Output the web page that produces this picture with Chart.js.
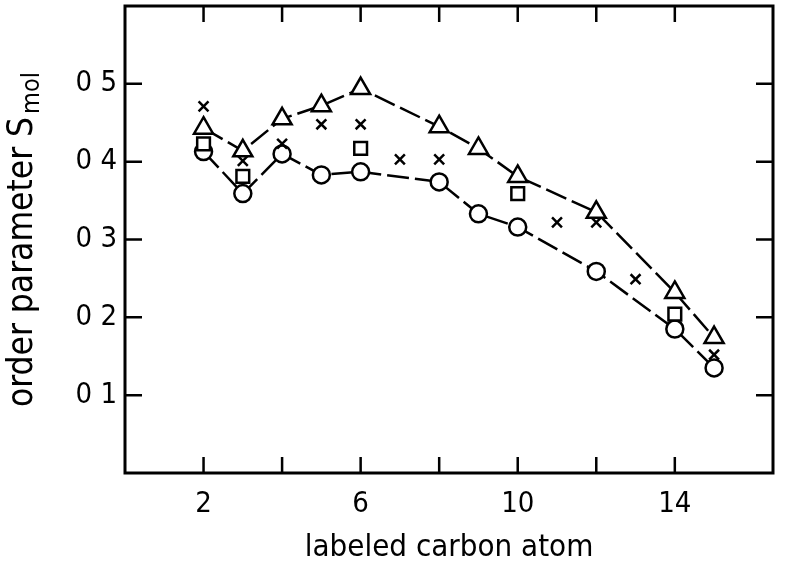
<!DOCTYPE html>
<html>
<head>
<meta charset="utf-8">
<script src="https://cdn.jsdelivr.net/npm/chart.js"></script>
<style>
  html, body { margin: 0; padding: 0; background: #fff; }
  #box { width: 800px; height: 571px; }
</style>
</head>
<body>
<div id="box"><canvas id="grafico"></canvas></div>
<script>
// valores
const triCarbon = [2, 3, 4, 5, 6, 8, 9, 10, 12, 14, 15];
const triS = [0.443, 0.414, 0.455, 0.472, 0.494, 0.445, 0.417, 0.381, 0.335, 0.232, 0.174];

const circCarbon = [2, 3, 4, 5, 6, 8, 9, 10, 12, 14, 15];
const circS = [0.413, 0.359, 0.410, 0.383, 0.387, 0.374, 0.333, 0.316, 0.259, 0.185, 0.135];

const crossCarbon = [2, 3, 4, 5, 6, 7, 8, 11, 12, 13, 15];
const crossS = [0.471, 0.401, 0.423, 0.448, 0.448, 0.403, 0.403, 0.322, 0.322, 0.249, 0.152];

const sqCarbon = [2, 3, 6, 10, 14];
const sqS = [0.423, 0.381, 0.417, 0.359, 0.204];

const xTickLabels = [2, 6, 10, 14];
const yTickLabels = { '0.1': '0 1', '0.2': '0 2', '0.3': '0 3', '0.4': '0 4', '0.5': '0 5' };

const FONT = "'DejaVu Sans Condensed', 'Liberation Sans Narrow', sans-serif";

function pts(xs, ys) {
  return xs.map((x, i) => ({ x: x, y: ys[i] }));
}

function semPadding(scale) {
  scale.paddingTop = 0;
  scale.paddingBottom = 0;
  scale.paddingLeft = 0;
  scale.paddingRight = 0;
}

// moldura + ticks para dentro
const molduraPlugin = {
  id: 'moldura',
  afterDatasetsDraw(chart) {
    const { ctx, chartArea: a, scales } = chart;
    ctx.save();
    ctx.strokeStyle = '#000';
    ctx.lineWidth = 3;
    ctx.strokeRect(a.left, a.top, a.right - a.left, a.bottom - a.top);
    ctx.lineWidth = 2.5;
    ctx.beginPath();
    scales.x.ticks.forEach(t => {
      const px = scales.x.getPixelForValue(t.value);
      ctx.moveTo(px, a.bottom); ctx.lineTo(px, a.bottom - 16);
      ctx.moveTo(px, a.top); ctx.lineTo(px, a.top + 16);
    });
    scales.y.ticks.forEach(t => {
      const py = scales.y.getPixelForValue(t.value);
      ctx.moveTo(a.left, py); ctx.lineTo(a.left + 17, py);
      ctx.moveTo(a.right, py); ctx.lineTo(a.right - 17, py);
    });
    ctx.stroke();
    ctx.restore();
  },
  afterDraw(chart) {
    // titulo do eixo y com subscrito
    const { ctx, chartArea: a } = chart;
    const cy = (a.top + a.bottom) / 2;
    ctx.save();
    ctx.translate(32, cy);
    ctx.rotate(-Math.PI / 2);
    ctx.fillStyle = '#000';
    ctx.textBaseline = 'alphabetic';
    const main = 'order parameter S';
    ctx.font = '35px ' + FONT;
    const w1 = ctx.measureText(main).width;
    ctx.font = '25px ' + FONT;
    const w2 = ctx.measureText('mol').width;
    const start = -(w1 + w2 + 3) / 2;
    ctx.font = '35px ' + FONT;
    ctx.fillText(main, start, 0);
    ctx.font = '25px ' + FONT;
    ctx.fillText('mol', start + w1 + 3, 7);
    ctx.restore();
  }
};

new Chart(document.getElementById('grafico'), {
  type: 'scatter',
  data: {
    datasets: [
      {
        label: 'triangulos',
        data: pts(triCarbon, triS),
        showLine: true,
        borderColor: '#000',
        borderWidth: 2.5,
        borderDash: [22, 6],
        pointStyle: 'triangle',
        pointRadius: 11,
        pointBorderWidth: 2.5,
        pointBackgroundColor: '#fff',
        pointBorderColor: '#000'
      },
      {
        label: 'quadrados',
        data: pts(sqCarbon, sqS),
        showLine: false,
        pointStyle: 'rect',
        pointRadius: 9,
        pointBorderWidth: 2.5,
        pointBackgroundColor: '#fff',
        pointBorderColor: '#000'
      },
      {
        label: 'cruzes',
        data: pts(crossCarbon, crossS),
        showLine: false,
        pointStyle: 'crossRot',
        pointRadius: 7,
        pointBorderWidth: 2.5,
        pointBorderColor: '#000'
      },
      {
        label: 'circulos',
        data: pts(circCarbon, circS),
        showLine: true,
        borderColor: '#000',
        borderWidth: 2.5,
        borderDash: [22, 6],
        pointStyle: 'circle',
        pointRadius: 8.5,
        pointBorderWidth: 2.5,
        pointBackgroundColor: '#fff',
        pointBorderColor: '#000'
      }
    ]
  },
  options: {
    responsive: true,
    maintainAspectRatio: false,
    animation: false,
    layout: { autoPadding: false, padding: { top: 6, right: 27, left: 0, bottom: 0 } },
    plugins: {
      legend: { display: false },
      tooltip: { enabled: false }
    },
    scales: {
      x: {
        type: 'linear',
        min: 0,
        max: 16.5,
        grid: { display: false, drawTicks: false },
        border: { display: false },
        afterFit(scale) { scale.height = 98; semPadding(scale); },
        afterBuildTicks(scale) { scale.ticks = scale.ticks.filter(t => t.value > 0 && t.value < 16.5); },
        ticks: {
          stepSize: 2,
          padding: 14,
          color: '#000',
          font: { family: FONT, size: 29 },
          maxRotation: 0,
          autoSkip: false,
          callback: v => xTickLabels.includes(v) ? String(v) : ''
        },
        title: {
          display: true,
          text: 'labeled carbon atom',
          color: '#000',
          font: { family: FONT, size: 31 },
          padding: { top: 0, bottom: 4 }
        }
      },
      y: {
        min: 0,
        max: 0.6,
        grid: { display: false, drawTicks: false },
        border: { display: false },
        afterFit(scale) { scale.width = 125; semPadding(scale); },
        afterBuildTicks(scale) { scale.ticks = scale.ticks.filter(t => t.value > 0.05 && t.value < 0.55); },
        ticks: {
          stepSize: 0.1,
          padding: 8,
          color: '#000',
          font: { family: FONT, size: 29 },
          autoSkip: false,
          callback: v => yTickLabels[v.toFixed(1)] || ''
        }
      }
    }
  },
  plugins: [molduraPlugin]
});
</script>
</body>
</html>
